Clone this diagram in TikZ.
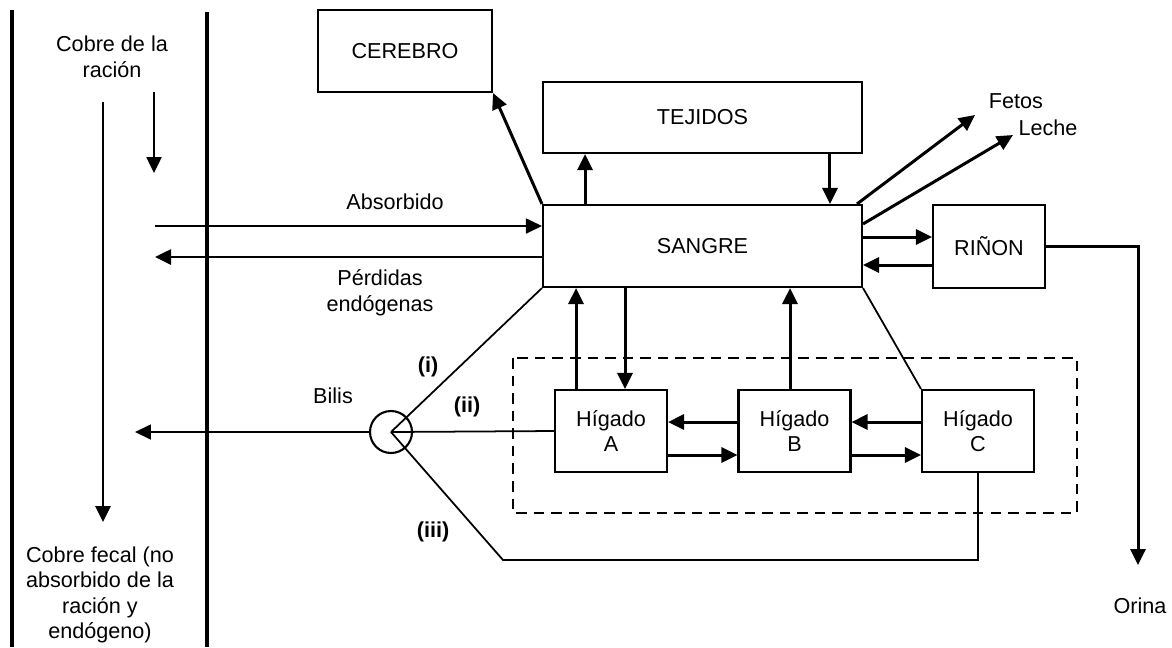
\documentclass[tikz,border=0pt]{standalone}
\usepackage{fontspec}
\setmainfont{Liberation Sans}
\usetikzlibrary{arrows.meta,calc}

\begin{document}
\begin{tikzpicture}[x=0.02cm,y=-0.02cm,
  every node/.style={font=\fontsize{12.3}{14.5}\selectfont},
  caja/.style={draw,line width=1.2pt,inner sep=0pt,align=center},
  flecha/.style={line width=1.7pt,-{Triangle[length=0.32cm,width=0.3cm]}},
  flechafina/.style={line width=1pt,-{Triangle[length=0.32cm,width=0.3cm]}},
  linea/.style={line width=1pt},
  pared/.style={line width=2.2pt}]
\useasboundingbox (0,0) rectangle (1172,647);

\draw[pared] (12,10) -- (12,647);
\draw[pared] (207,12) -- (207,647);

\node[caja,minimum width=3.48cm,minimum height=1.64cm] (cerebro) at (405,51) {CEREBRO};
\node[caja,minimum width=6.38cm,minimum height=1.42cm] (tejidos) at (702.5,117.5) {TEJIDOS};
\node[caja,minimum width=6.38cm,minimum height=1.64cm] (sangre) at (702.5,246) {SANGRE};
\node[caja,minimum width=2.24cm,minimum height=1.66cm] (rinon) at (989,246.5) {RIÑON};
\node[caja,minimum width=2.24cm,minimum height=1.64cm] (higA) at (611,431) {Hígado\\A};
\node[caja,minimum width=2.24cm,minimum height=1.64cm] (higB) at (794.5,431) {Hígado\\B};
\node[caja,minimum width=2.24cm,minimum height=1.64cm] (higC) at (978,431) {Hígado\\C};
\node[draw,circle,line width=1.2pt,minimum size=0.84cm,inner sep=0pt] (bilis) at (391,432) {};

\draw[line width=1.2pt,dashed,dash pattern=on 6pt off 4pt] (513,358) rectangle (1077,513);

\node[align=center] (racion) at (112,57) {Cobre de la\\ración};
\node[align=center] (fecal) at (100,595) {Cobre fecal (no\\absorbido de la\\ración y\\endógeno)};
\node (absorbido) at (395,202) {Absorbido};
\node[align=center] (perdidas) at (380,293) {Pérdidas\\endógenas};
\node (fetos) at (1016,101) {Fetos};
\node (leche) at (1048,128) {Leche};
\node (orinatxt) at (1140,606) {Orina};
\node (bilistxt) at (333,396) {Bilis};
\node[font=\fontsize{12.3}{14.5}\selectfont\bfseries] (ri) at (428,367) {(i)};
\node[font=\fontsize{12.3}{14.5}\selectfont\bfseries] (rii) at (467,407) {(ii)};
\node[font=\fontsize{12.3}{14.5}\selectfont\bfseries] (riii) at (433,532) {(iii)};

\coordinate (racion1) at (154,92);
\coordinate (racion2) at (154,173);
\coordinate (fecal1) at (103,102);
\coordinate (fecal2) at (103,522);
\coordinate (absorb) at (155,226);
\coordinate (perd) at (155,257);
\coordinate (fetosfin) at (975,115);
\coordinate (lechefin) at (1013,135);
\coordinate (orina) at (1138,565);
\coordinate (bilisfin) at (135,432);
\coordinate (vuelta) at (503,560);

\draw[flecha,line width=1.4pt] (racion1) -- (racion2);
\draw[flecha] (fecal1) -- (fecal2);
\draw[flechafina] (absorb) -- (absorb -| sangre.west);
\draw[flecha,line width=1.5pt] (perd -| sangre.west) -- (perd);

\draw[flecha] (sangre.north west) -- (cerebro.south east);
\draw[flecha] ([xshift=-2.35cm]sangre.north) -- ([xshift=-2.35cm]tejidos.south);
\draw[flecha] ([xshift=2.55cm]tejidos.south) -- ([xshift=2.55cm]sangre.north);
\draw[flecha] ($(sangre.north east)+(-6,0)$) -- (fetosfin);
\draw[flecha] ($(sangre.north east)+(0,20)$) -- (lechefin);
\draw[flecha] ([yshift=0.18cm]sangre.east) -- ([yshift=0.18cm]sangre.east -| rinon.west);
\draw[flecha] ([yshift=-0.38cm]sangre.east -| rinon.west) -- ([yshift=-0.38cm]sangre.east);
\draw[flecha] (rinon.east) -| (orina);

\draw[flecha] ([xshift=-0.7cm]higA.north) -- ([xshift=-0.7cm]higA.north |- sangre.south);
\draw[flecha] ([xshift=0.28cm]higA.north |- sangre.south) -- ([xshift=0.28cm]higA.north);
\draw[flecha] ([xshift=-0.09cm]higB.north) -- ([xshift=-0.09cm]higB.north |- sangre.south);
\draw[flecha] ([yshift=0.18cm]higB.west) -- ([yshift=0.18cm]higA.east);
\draw[flecha] ([yshift=-0.48cm]higA.east) -- ([yshift=-0.48cm]higB.west);
\draw[flecha] ([yshift=0.18cm]higC.west) -- ([yshift=0.18cm]higB.east);
\draw[flecha] ([yshift=-0.48cm]higB.east) -- ([yshift=-0.48cm]higC.west);

\draw[linea] (bilis.center) -- (sangre.south west);
\draw[linea] (bilis.center) -- (higA.west);
\draw[linea] (bilis.center) -- (vuelta) -| (higC.south);
\draw[linea] (sangre.south east) -- (higC.north west);
\draw[flechafina] (bilis.west) -- (bilisfin);

\end{tikzpicture}
\end{document}
